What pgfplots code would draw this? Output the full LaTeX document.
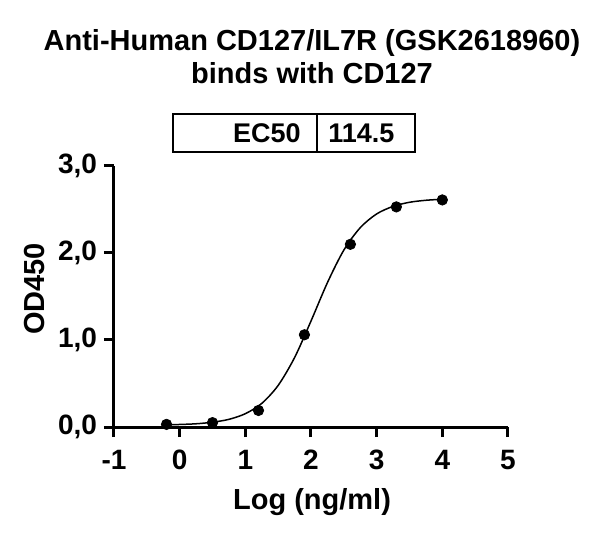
\documentclass[border=0pt]{standalone}
\usepackage{fontspec}
\setmainfont{Liberation Sans}
\usepackage{pgfplots}
\pgfplotsset{compat=1.18}
\begin{document}
\begin{tikzpicture}
\useasboundingbox (-57pt,-57pt) rectangle (243pt,213.5pt);
\begin{axis}[
  scale only axis, width=197pt, height=130.5pt,
  xmin=-1, xmax=5, ymin=0, ymax=3,
  axis lines=left,
  axis line style={-, line width=1.5pt},
  xtick={-1,0,1,2,3,4,5},
  xticklabels={-1,0,1,2,3,4,5},
  ytick={0,1,2,3},
  yticklabels={{0,0},{1,0},{2,0},{3,0}},
  tick align=outside, major tick length=5pt,
  tick style={line width=1.5pt, black},
  tick label style={font=\fontsize{14}{16}\selectfont\bfseries},
  xticklabel style={yshift=-3pt},
  clip=false,
]
  % fitted curve
  \addplot[black, line width=0.75pt, smooth] coordinates {
    (-0.2,0.025) (0,0.029) (0.25,0.037) (0.5,0.055) (0.75,0.088)
    (1.0,0.153) (1.25,0.271) (1.5,0.478) (1.75,0.798) (2.0,1.218)
    (2.25,1.659) (2.5,2.033) (2.75,2.291) (3.0,2.449) (3.25,2.536)
    (3.5,2.583) (3.75,2.606) (4.0,2.618)
  };
  % measured points
  \addplot[only marks, mark=*, mark size=2.6pt, black] coordinates {
    (-0.2,0.03) (0.5,0.05) (1.2,0.19) (1.9,1.06)
    (2.6,2.10) (3.3,2.53) (4.0,2.61)
  };
\end{axis}
\begin{scope}[font=\fontsize{14.5}{17}\selectfont\bfseries]
  \node[anchor=base, inner sep=0pt] at (99pt,188pt) {Anti-Human CD127/IL7R (GSK2618960)};
  \node[anchor=base, inner sep=0pt] at (99pt,171.75pt) {binds with CD127};
\end{scope}
\draw[line width=1pt] (29.5pt,137.25pt) rectangle (150.5pt,156.25pt);
\draw[line width=1pt] (101.5pt,137.25pt) -- (101.5pt,156.25pt);
\node[anchor=base east, inner sep=0pt, font=\fontsize{13.5}{16}\selectfont\bfseries] at (93.5pt,142.25pt) {EC50};
\node[anchor=base west, inner sep=0pt, font=\fontsize{13.5}{16}\selectfont\bfseries] at (107pt,142.25pt) {114.5};
\node[anchor=base, inner sep=0pt, font=\fontsize{14.5}{17}\selectfont\bfseries] at (99pt,-41pt) {Log (ng/ml)};
\node[anchor=base, rotate=90, inner sep=0pt, font=\fontsize{14.5}{17}\selectfont\bfseries] at (-34.5pt,69pt) {OD450};
\end{tikzpicture}
\end{document}
